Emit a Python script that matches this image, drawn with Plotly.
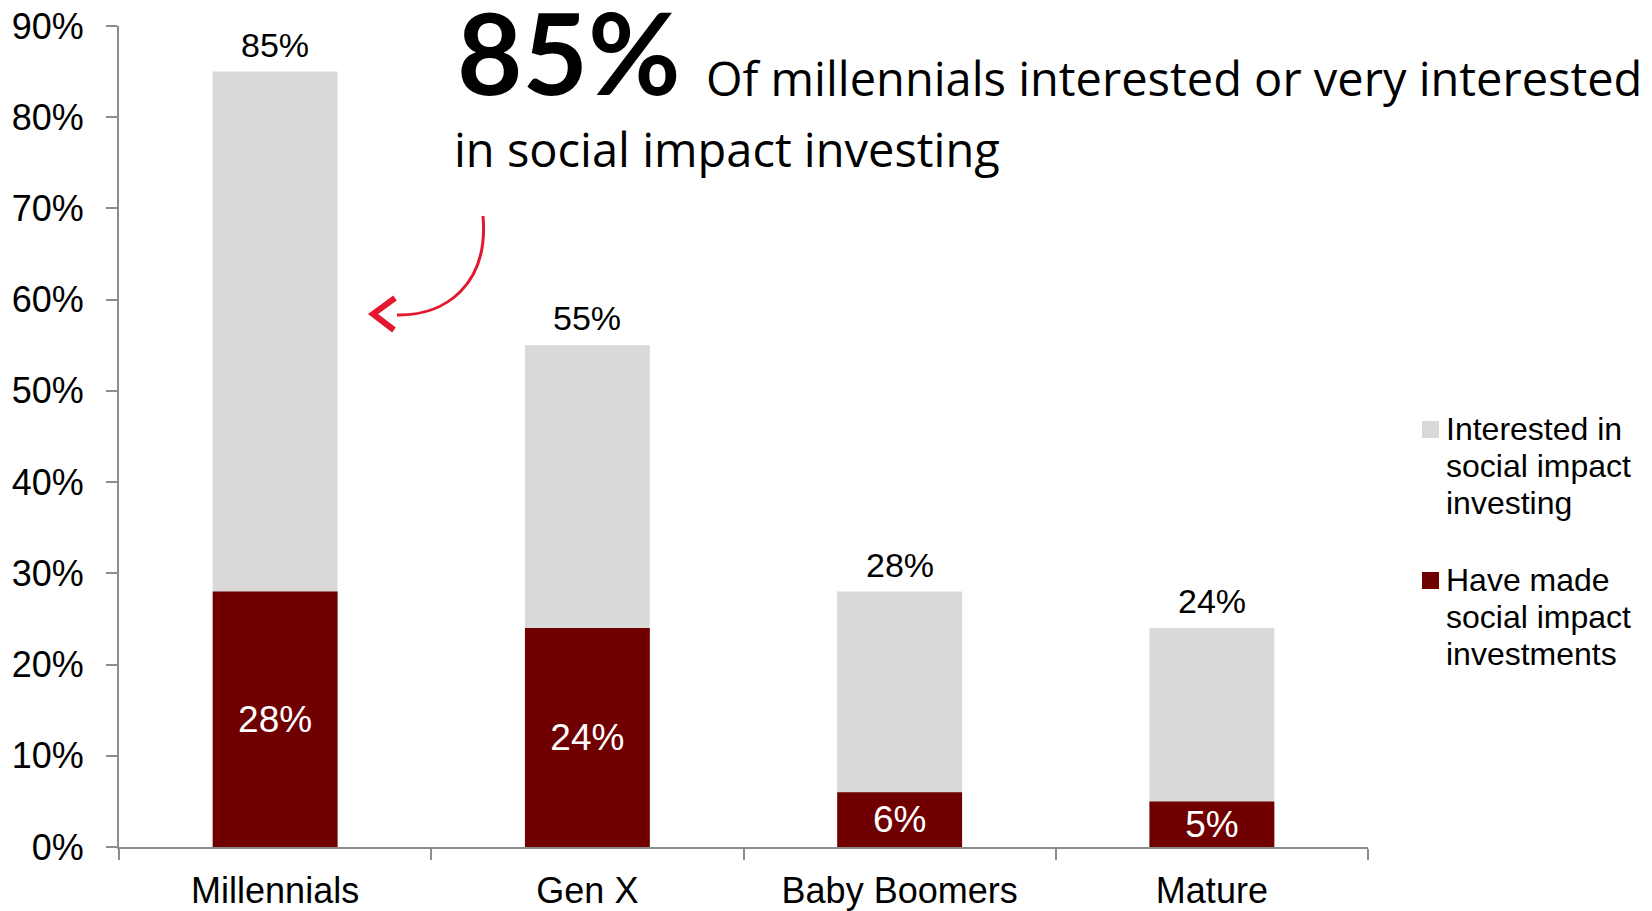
import plotly.graph_objects as go

# --- data -------------------------------------------------------------
categories = ["Millennials", "Gen X", "Baby Boomers", "Mature"]
interested = [85, 55, 28, 24]      # interested in social impact investing (%)
made = [28, 24, 6, 5]              # have made social impact investments (%)
y_ticks = [0, 10, 20, 30, 40, 50, 60, 70, 80, 90]
y_tick_labels = [f"{v}%" for v in y_ticks]
series_names = [
    ["Interested in", "social impact", "investing"],
    ["Have made", "social impact", "investments"],
]

# --- layout constants (pixels) ----------------------------------------
W, H = 1652, 911
ML, MR, MT, MB = 119, 284, 26, 64
PW = W - ML - MR
PH = H - MT - MB

GREY = "#D9D9D9"
MAROON = "#700000"
RED = "#E3172E"
AXIS = "#8C8C8C"
SANS = "Liberation Sans, Arial, sans-serif"
HEAD = "Lato, sans-serif"
SUB = "Open Sans, sans-serif"


def to_paper(x, y):
    """Convert page pixel coordinates to paper coordinates."""
    return (x - ML) / PW, (H - MB - y) / PH


def path(cmds):
    out = []
    for c in cmds:
        if isinstance(c, str):
            out.append(c)
        else:
            px, py = to_paper(*c)
            out.append(f"{px:.5f},{py:.5f}")
    return " ".join(out)


fig = go.Figure()

fig.add_trace(go.Bar(
    x=categories, y=interested, name=" ".join(series_names[0]),
    marker=dict(color=GREY, line=dict(width=0)), width=0.4,
    hoverinfo="x+y", showlegend=False,
))
fig.add_trace(go.Bar(
    x=categories, y=made, name=" ".join(series_names[1]),
    marker=dict(color=MAROON, line=dict(width=0)), width=0.4,
    text=[f"{v}%" for v in made], textposition="inside",
    insidetextanchor="middle", constraintext="none",
    textfont=dict(family=SANS, size=37, color="white"),
    hoverinfo="x+y", showlegend=False,
))

annotations = []
shapes = []

# totals above the bars
for c, v in zip(categories, interested):
    annotations.append(dict(
        x=c, y=v, xref="x", yref="y", text=f"{v}%", showarrow=False,
        yanchor="bottom", yshift=6,
        font=dict(family=SANS, size=34, color="black"),
    ))

# headline
hx, hy = to_paper(455, 51)
annotations.append(dict(
    x=hx, y=hy, xref="paper", yref="paper", text="<b>85%</b>",
    showarrow=False, xanchor="left", yanchor="middle",
    font=dict(family=HEAD, size=113, color="black"),
))
sx, sy = to_paper(704, 78)
annotations.append(dict(
    x=sx, y=sy, xref="paper", yref="paper",
    text="Of millennials interested or very interested",
    showarrow=False, xanchor="left", yanchor="middle",
    font=dict(family=SUB, size=47, color="black"),
))
tx, ty = to_paper(452, 149)
annotations.append(dict(
    x=tx, y=ty, xref="paper", yref="paper",
    text="in social impact investing",
    showarrow=False, xanchor="left", yanchor="middle",
    font=dict(family=SUB, size=47, color="black"),
))

# curved pointer towards the first bar
shapes += [
    dict(type="path", xref="paper", yref="paper",
         path=path(["M", (483, 216), "C", (489, 285), (445, 316), (397, 315)]),
         line=dict(color=RED, width=3)),
    dict(type="path", xref="paper", yref="paper",
         path=path(["M", (395, 298), "L", (373, 314), "L", (394, 330)]),
         line=dict(color=RED, width=6)),
]

# legend: colour key with three-line labels
key_colors = [GREY, MAROON]
key_top = [429, 580]
LINE = 37
for lines, col, y0 in zip(series_names, key_colors, key_top):
    x0p, y0p = to_paper(1422, y0 - 8)
    x1p, y1p = to_paper(1439, y0 + 9)
    shapes.append(dict(type="rect", xref="paper", yref="paper",
                       x0=x0p, x1=x1p, y0=y1p, y1=y0p,
                       fillcolor=col, line=dict(width=0)))
    for i, t in enumerate(lines):
        lx, ly = to_paper(1444, y0 + i * LINE)
        annotations.append(dict(
            x=lx, y=ly, xref="paper", yref="paper", text=t,
            showarrow=False, xanchor="left", yanchor="middle",
            font=dict(family=SANS, size=32, color="black"),
        ))

fig.update_layout(
    width=W, height=H,
    margin=dict(l=ML, r=MR, t=MT, b=MB, pad=0),
    paper_bgcolor="white", plot_bgcolor="white",
    barmode="overlay",
    showlegend=False,
    xaxis=dict(
        type="category", range=[-0.5, 3.5], automargin=False,
        showline=True, linecolor=AXIS, linewidth=2,
        ticks="outside", tickson="boundaries", ticklen=11,
        tickcolor=AXIS, tickwidth=2, showgrid=False,
        tickfont=dict(family=SANS, size=36, color="black"),
        ticklabelstandoff=11,
    ),
    yaxis=dict(
        range=[0, 90], tickvals=y_ticks, ticktext=y_tick_labels,
        automargin=False,
        showline=True, linecolor=AXIS, linewidth=2,
        ticks="outside", ticklen=11, tickcolor=AXIS, tickwidth=2,
        showgrid=False, zeroline=False,
        tickfont=dict(family=SANS, size=36, color="black"),
        ticklabelstandoff=15,
    ),
    annotations=annotations,
    shapes=shapes,
)

fig.write_html("out.html")
